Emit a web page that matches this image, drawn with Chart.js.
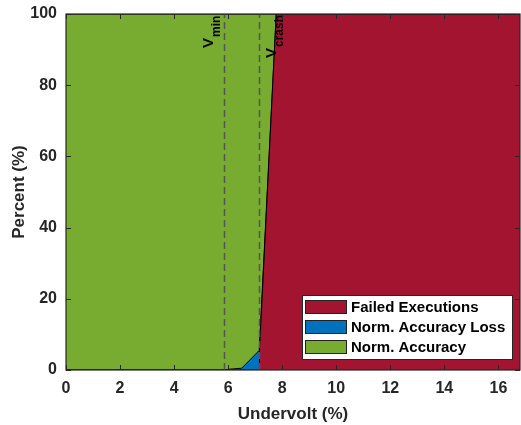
<!DOCTYPE html>
<html>
<head>
<meta charset="utf-8">
<script src="https://cdn.jsdelivr.net/npm/chart.js@4.4.0/dist/chart.umd.min.js"></script>
<style>
  html, body { margin: 0; padding: 0; background: #ffffff; }
  #wrap { width: 521px; height: 425px; position: relative; }
</style>
</head>
<body>
<div id="wrap"><canvas id="c" width="521" height="425"></canvas></div>
<script>
// ---- data ----
const xValues   = [0, 5.85, 6.0, 6.5, 7.15, 7.16, 7.78, 16.8];
const failed    = [0, 0,    0,   0,   0,    5.5,  100,  100];
const accLoss   = [0, 0,    0.2, 0.5, 5.5,  0,    0,    0];
const accuracy  = [100, 100, 99.8, 99.5, 94.5, 94.5, 0, 0];
const seriesLabels = ['Failed Executions', 'Norm. Accuracy Loss', 'Norm. Accuracy'];
const xTicks = [0, 2, 4, 6, 8, 10, 12, 14, 16];
const yTicks = [0, 20, 40, 60, 80, 100];
const markerX = [5.85, 7.15];
const markerMain = ['V', 'V'];
const markerSub = ['min', 'crash'];

const FONT = '"Liberation Sans", Arial, Helvetica, sans-serif';
const COLORS = ['#A2142F', '#0072BD', '#77AC30'];
const AX = '#262626';

function pts(arr) { return xValues.map((x, i) => ({ x: x, y: arr[i] })); }

const overlay = {
  id: 'overlay',
  afterDatasetsDraw(chart) {
    const ctx = chart.ctx;
    const xs = chart.scales.x, ys = chart.scales.y;
    const a = chart.chartArea;
    ctx.save();
    // dashed marker lines
    ctx.strokeStyle = '#555555';
    ctx.lineWidth = 1.5;
    ctx.setLineDash([7, 4]);
    markerX.forEach(v => {
      const px = Math.round(xs.getPixelForValue(v)) + 0.5;
      ctx.beginPath();
      ctx.moveTo(px, ys.getPixelForValue(0));
      ctx.lineTo(px, ys.getPixelForValue(100));
      ctx.stroke();
    });
    ctx.setLineDash([]);
    // marker labels (rotated)
    ctx.fillStyle = '#000';
    const offs = [{dx: -11, y: 48}, {dx: 17, y: 58}];
    markerX.forEach((v, i) => {
      const px = xs.getPixelForValue(v);
      ctx.save();
      ctx.translate(px + offs[i].dx, offs[i].y);
      ctx.rotate(-Math.PI / 2);
      ctx.textAlign = 'left';
      ctx.textBaseline = 'alphabetic';
      ctx.font = 'bold 15px ' + FONT;
      ctx.fillText(markerMain[i], 0, 0);
      const w = ctx.measureText(markerMain[i]).width;
      ctx.font = 'bold 12px ' + FONT;
      ctx.fillText(markerSub[i], w + 1, 7);
      ctx.restore();
    });
    // axes box and inner ticks
    ctx.strokeStyle = AX;
    ctx.lineWidth = 1.2;
    ctx.strokeRect(a.left, a.top, a.right - a.left, a.bottom - a.top);
    ctx.lineWidth = 1;
    ctx.beginPath();
    xTicks.forEach(v => {
      const px = Math.round(xs.getPixelForValue(v)) + 0.5;
      ctx.moveTo(px, a.bottom); ctx.lineTo(px, a.bottom - 5);
      ctx.moveTo(px, a.top); ctx.lineTo(px, a.top + 5);
    });
    yTicks.forEach(v => {
      const py = Math.round(ys.getPixelForValue(v)) + 0.5;
      ctx.moveTo(a.left, py); ctx.lineTo(a.left + 5, py);
      ctx.moveTo(a.right, py); ctx.lineTo(a.right - 5, py);
    });
    ctx.stroke();
    // legend box
    const lx = 302, ly = 295, lw = 210, lh = 64;
    ctx.fillStyle = '#fff';
    ctx.fillRect(lx, ly, lw, lh);
    ctx.strokeStyle = AX;
    ctx.lineWidth = 1;
    ctx.strokeRect(lx + 0.5, ly + 0.5, lw, lh);
    const rows = [307, 327, 347];
    chart.data.datasets.forEach((ds, i) => {
      const cy = rows[i];
      ctx.fillStyle = ds.backgroundColor;
      ctx.fillRect(305, cy - 7, 42, 14);
      ctx.strokeStyle = '#222';
      ctx.strokeRect(305.5, cy - 6.5, 41, 13);
      ctx.fillStyle = '#000';
      ctx.font = 'bold 15px ' + FONT;
      ctx.textAlign = 'left';
      ctx.textBaseline = 'middle';
      ctx.fillText(ds.label, 351, cy + 1);
    });
    ctx.restore();
  }
};

const datasets = [failed, accLoss, accuracy].map((arr, i) => ({
  label: seriesLabels[i],
  data: pts(arr),
  backgroundColor: COLORS[i],
  borderColor: '#000',
  borderWidth: 1,
  pointRadius: 0,
  tension: 0,
  fill: i === 0 ? 'origin' : '-1'
}));

new Chart(document.getElementById('c'), {
  type: 'line',
  data: { datasets: datasets },
  options: {
    responsive: false,
    animation: false,
    layout: { padding: { left: 0, right: 1, top: 14, bottom: 0 } },
    plugins: { legend: { display: false }, tooltip: { enabled: false } },
    scales: {
      x: {
        type: 'linear', min: 0, max: 16.8,
        grid: { display: false, drawTicks: false },
        border: { display: false },
        afterBuildTicks: s => { s.ticks = xTicks.map(v => ({ value: v })); },
        afterFit: s => { s.height = 55; s.paddingLeft = 0; s.paddingRight = 0; },
        ticks: { color: AX, padding: 9, maxRotation: 0, autoSkip: false,
                 font: { family: FONT, size: 16, weight: 'bold' } },
        title: { display: true, text: 'Undervolt (%)', color: AX, padding: { top: 3, bottom: 0 },
                 font: { family: FONT, size: 17, weight: 'bold' } }
      },
      y: {
        type: 'linear', min: 0, max: 100, stacked: true,
        grid: { display: false, drawTicks: false },
        border: { display: false },
        afterBuildTicks: s => { s.ticks = yTicks.map(v => ({ value: v })); },
        afterFit: s => { s.width = 66; s.paddingTop = 0; s.paddingBottom = 0; },
        ticks: { color: AX, padding: 9, autoSkip: false,
                 font: { family: FONT, size: 16, weight: 'bold' } },
        title: { display: true, text: 'Percent (%)', color: AX, padding: { top: 9, bottom: 0 },
                 font: { family: FONT, size: 17, weight: 'bold' } }
      }
    }
  },
  plugins: [overlay]
});
</script>
</body>
</html>
